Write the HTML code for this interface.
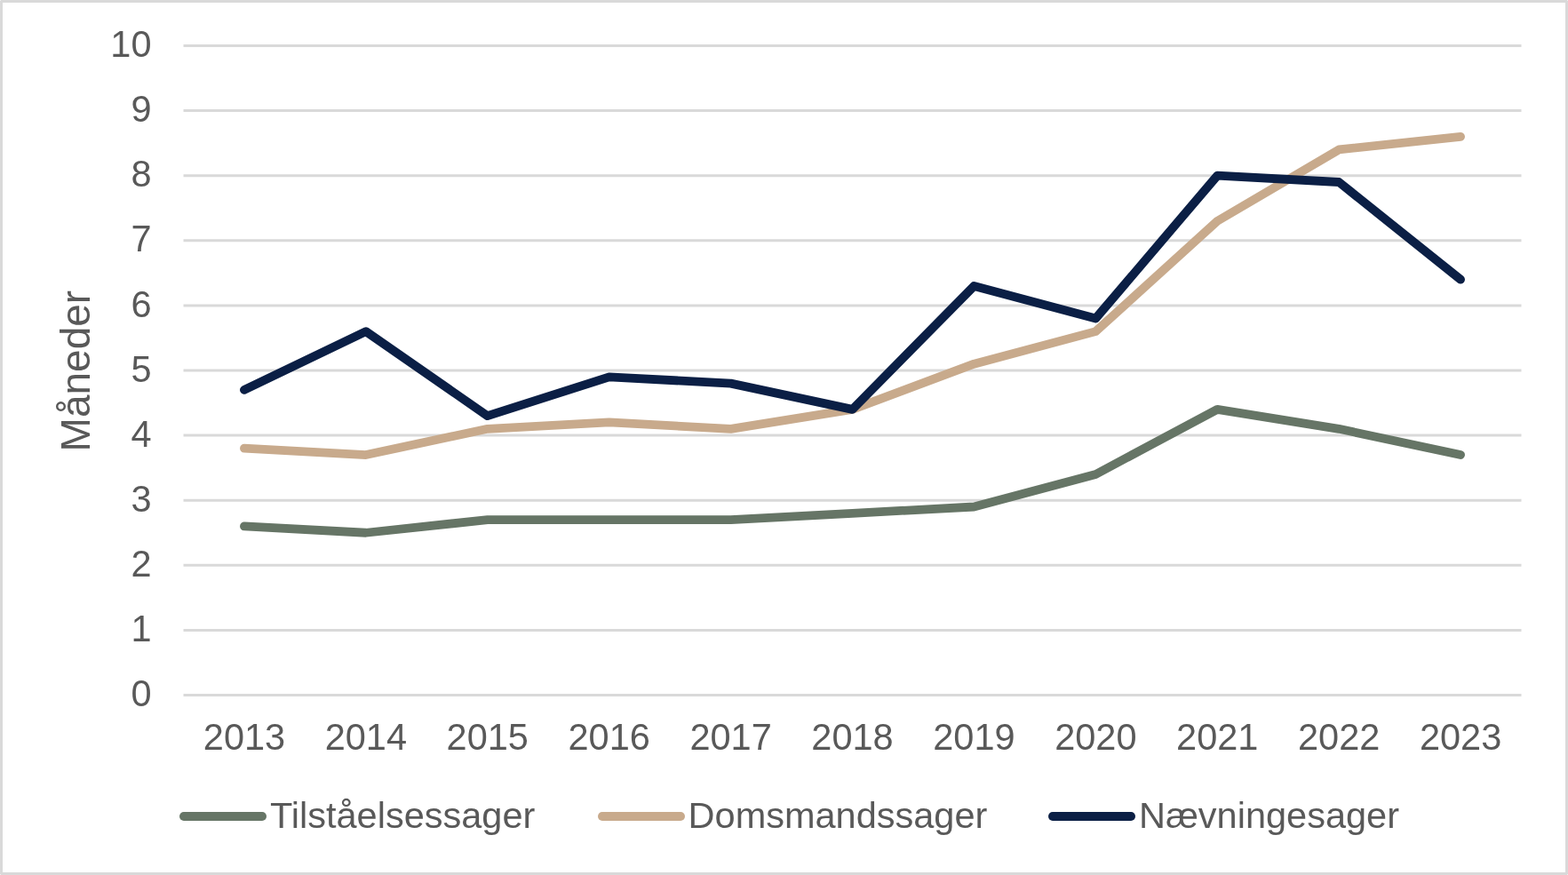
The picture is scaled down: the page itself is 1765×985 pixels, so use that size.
<!DOCTYPE html><html><head><meta charset="utf-8"><title>Chart</title><style>
html,body{margin:0;padding:0;background:#fff;}
.frame{position:relative;width:1765px;height:985px;background:#fff;overflow:hidden;}.bd{position:absolute;left:0;top:0;width:1765px;height:985px;box-sizing:border-box;border:3px solid #d9d9d9;}
svg{position:absolute;left:0;top:0;}
text{font-family:"Liberation Sans",Arial,sans-serif;fill:#595959;}
</style></head><body><div class="frame"><div class="bd"></div>
<svg width="1765" height="985" viewBox="0 0 1765 985">
<line x1="206.50" y1="782.50" x2="1712.50" y2="782.50" stroke="#d9d9d9" stroke-width="3"/>
<line x1="206.50" y1="709.40" x2="1712.50" y2="709.40" stroke="#d9d9d9" stroke-width="3"/>
<line x1="206.50" y1="636.30" x2="1712.50" y2="636.30" stroke="#d9d9d9" stroke-width="3"/>
<line x1="206.50" y1="563.20" x2="1712.50" y2="563.20" stroke="#d9d9d9" stroke-width="3"/>
<line x1="206.50" y1="490.10" x2="1712.50" y2="490.10" stroke="#d9d9d9" stroke-width="3"/>
<line x1="206.50" y1="417.00" x2="1712.50" y2="417.00" stroke="#d9d9d9" stroke-width="3"/>
<line x1="206.50" y1="343.90" x2="1712.50" y2="343.90" stroke="#d9d9d9" stroke-width="3"/>
<line x1="206.50" y1="270.80" x2="1712.50" y2="270.80" stroke="#d9d9d9" stroke-width="3"/>
<line x1="206.50" y1="197.70" x2="1712.50" y2="197.70" stroke="#d9d9d9" stroke-width="3"/>
<line x1="206.50" y1="124.60" x2="1712.50" y2="124.60" stroke="#d9d9d9" stroke-width="3"/>
<line x1="206.50" y1="51.50" x2="1712.50" y2="51.50" stroke="#d9d9d9" stroke-width="3"/>
<text transform="translate(170.50 795.10) scale(1 1.04)" text-anchor="end" font-size="41.5">0</text>
<text transform="translate(170.50 722.00) scale(1 1.04)" text-anchor="end" font-size="41.5">1</text>
<text transform="translate(170.50 648.90) scale(1 1.04)" text-anchor="end" font-size="41.5">2</text>
<text transform="translate(170.50 575.80) scale(1 1.04)" text-anchor="end" font-size="41.5">3</text>
<text transform="translate(170.50 502.70) scale(1 1.04)" text-anchor="end" font-size="41.5">4</text>
<text transform="translate(170.50 429.60) scale(1 1.04)" text-anchor="end" font-size="41.5">5</text>
<text transform="translate(170.50 356.50) scale(1 1.04)" text-anchor="end" font-size="41.5">6</text>
<text transform="translate(170.50 283.40) scale(1 1.04)" text-anchor="end" font-size="41.5">7</text>
<text transform="translate(170.50 210.30) scale(1 1.04)" text-anchor="end" font-size="41.5">8</text>
<text transform="translate(170.50 137.20) scale(1 1.04)" text-anchor="end" font-size="41.5">9</text>
<text transform="translate(170.50 64.10) scale(1 1.04)" text-anchor="end" font-size="41.5">10</text>
<text transform="translate(274.95 843.90) scale(1 1.04)" text-anchor="middle" font-size="41.5">2013</text>
<text transform="translate(411.86 843.90) scale(1 1.04)" text-anchor="middle" font-size="41.5">2014</text>
<text transform="translate(548.77 843.90) scale(1 1.04)" text-anchor="middle" font-size="41.5">2015</text>
<text transform="translate(685.68 843.90) scale(1 1.04)" text-anchor="middle" font-size="41.5">2016</text>
<text transform="translate(822.59 843.90) scale(1 1.04)" text-anchor="middle" font-size="41.5">2017</text>
<text transform="translate(959.50 843.90) scale(1 1.04)" text-anchor="middle" font-size="41.5">2018</text>
<text transform="translate(1096.41 843.90) scale(1 1.04)" text-anchor="middle" font-size="41.5">2019</text>
<text transform="translate(1233.32 843.90) scale(1 1.04)" text-anchor="middle" font-size="41.5">2020</text>
<text transform="translate(1370.23 843.90) scale(1 1.04)" text-anchor="middle" font-size="41.5">2021</text>
<text transform="translate(1507.14 843.90) scale(1 1.04)" text-anchor="middle" font-size="41.5">2022</text>
<text transform="translate(1644.05 843.90) scale(1 1.04)" text-anchor="middle" font-size="41.5">2023</text>
<text transform="translate(101.00 417.60) rotate(-90) scale(1 1.0)" text-anchor="middle" font-size="46">Måneder</text>
<polyline points="274.95,592.44 411.86,599.75 548.77,585.13 685.68,585.13 822.59,585.13 959.50,577.82 1096.41,570.51 1233.32,533.96 1370.23,460.86 1507.14,482.79 1644.05,512.03" fill="none" stroke="#667566" stroke-width="9.8" stroke-linecap="round" stroke-linejoin="round"/>
<polyline points="274.95,504.72 411.86,512.03 548.77,482.79 685.68,475.48 822.59,482.79 959.50,460.86 1096.41,409.69 1233.32,373.14 1370.23,248.87 1507.14,168.46 1644.05,153.84" fill="none" stroke="#c8aa8c" stroke-width="9.8" stroke-linecap="round" stroke-linejoin="round"/>
<polyline points="274.95,438.93 411.86,373.14 548.77,468.17 685.68,424.31 822.59,431.62 959.50,460.86 1096.41,321.97 1233.32,358.52 1370.23,197.70 1507.14,205.01 1644.05,314.66" fill="none" stroke="#0b1f45" stroke-width="9.8" stroke-linecap="round" stroke-linejoin="round"/>
<line x1="206.90" y1="919.00" x2="295.10" y2="919.00" stroke="#667566" stroke-width="9.8" stroke-linecap="round"/>
<text transform="translate(304.00 932.00) scale(1 1.0)" font-size="41.5">Tilståelsessager</text>
<line x1="677.90" y1="919.00" x2="766.10" y2="919.00" stroke="#c8aa8c" stroke-width="9.8" stroke-linecap="round"/>
<text transform="translate(774.60 932.00) scale(1 1.0)" font-size="41.5">Domsmandssager</text>
<line x1="1184.90" y1="919.00" x2="1273.10" y2="919.00" stroke="#0b1f45" stroke-width="9.8" stroke-linecap="round"/>
<text transform="translate(1282.00 932.00) scale(1 1.0)" font-size="41.5">Nævningesager</text>
<rect x="0" y="0" width="1" height="1" fill="#f0f0f0"/>
<rect x="1764" y="0" width="1" height="1" fill="#f0f0f0"/>
<rect x="0" y="984" width="1" height="1" fill="#f0f0f0"/>
<rect x="1764" y="984" width="1" height="1" fill="#f0f0f0"/>
</svg></div></body></html>
